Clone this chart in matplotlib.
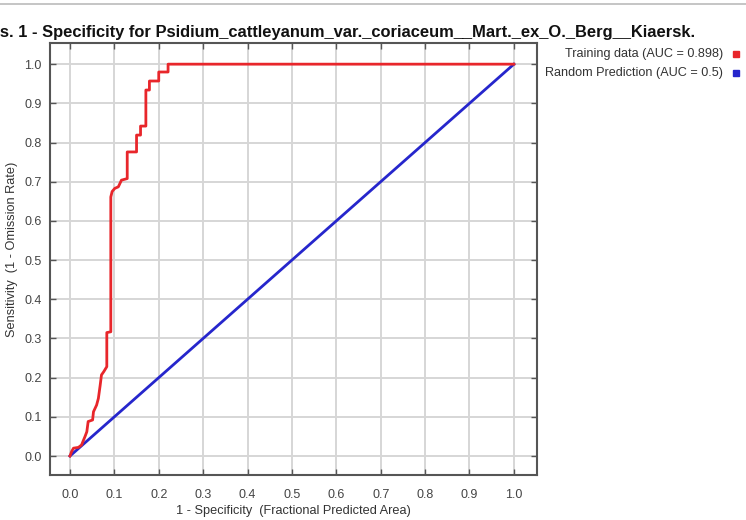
"""
Sensitivity vs 1 - Specificity (ROC) for Psidium cattleyanum
"""
import matplotlib
matplotlib.use('Agg')
import matplotlib.pyplot as plt
from matplotlib.lines import Line2D

plt.rcParams['font.family'] = ['Liberation Sans', 'DejaVu Sans']

# ROC curve
fpr = [0.0, 0.004, 0.008, 0.019, 0.026, 0.034, 0.038, 0.041, 0.046, 0.051,
       0.053, 0.060, 0.064, 0.068, 0.071, 0.076, 0.083, 0.083, 0.092, 0.092,
       0.095, 0.101, 0.109, 0.116, 0.129, 0.129, 0.150, 0.150, 0.159, 0.159,
       0.171, 0.171, 0.179, 0.179, 0.200, 0.200, 0.221, 0.221, 1.0]
tpr = [0.0, 0.012, 0.020, 0.022, 0.028, 0.050, 0.062, 0.088, 0.090, 0.092,
       0.113, 0.130, 0.147, 0.180, 0.207, 0.215, 0.228, 0.315, 0.317, 0.661,
       0.675, 0.683, 0.687, 0.704, 0.708, 0.776, 0.776, 0.819, 0.819, 0.842,
       0.842, 0.934, 0.934, 0.957, 0.957, 0.980, 0.980, 1.0, 1.0]
random_x = [0.0, 1.0]
random_y = [0.0, 1.0]
ticks = [0.0, 0.1, 0.2, 0.3, 0.4, 0.5, 0.6, 0.7, 0.8, 0.9, 1.0]
labels = ['Training data (AUC = 0.898)', 'Random Prediction (AUC = 0.5)']
title = ('Sensitivity vs. 1 - Specificity for '
         'Psidium_cattleyanum_var._coriaceum__Mart._ex_O._Berg__Kiaersk.')

fig = plt.figure(figsize=(7.46, 5.20), dpi=100)
ax = fig.add_axes([0.067, 0.0865, 0.6528, 0.8308])

ax.plot(random_x, random_y, color='#2626cc', lw=2.0, zorder=3)
ax.plot(fpr, tpr, color='#e8262b', lw=2.0, zorder=4)

ax.set_xlim(-0.045, 1.052)
ax.set_ylim(-0.0485, 1.054)
ax.set_xticks(ticks)
ax.set_yticks(ticks)
ax.set_xticklabels(['%.1f' % t for t in ticks])
ax.set_yticklabels(['%.1f' % t for t in ticks])
ax.grid(True, color='#d6d6d6', lw=1.4)
ax.set_axisbelow(True)
ax.tick_params(direction='in', length=4, width=1, color='#555555',
               top=True, right=True, labelsize=9, labelcolor='#444444')
ax.tick_params(axis='x', pad=10)
ax.tick_params(axis='y', pad=6)
for s in ax.spines.values():
    s.set_color('#555555')
    s.set_linewidth(1.5)

ax.set_xlabel('1 - Specificity  (Fractional Predicted Area)', fontsize=9.2,
              color='#333333', labelpad=3)
ax.set_ylabel('Sensitivity  (1 - Omission Rate)', fontsize=9.2,
              color='#333333')
ax.yaxis.set_label_coords(-0.0657, 0.522)

# title runs off the left edge as in the original
fig.text(695 / 746, 1 - 37 / 520, title, ha='right', va='baseline',
         fontsize=11.85, fontweight='bold', color='#111111')

# legend outside the axes, right aligned with small square markers
colors = ['#e8262b', '#2626cc']
for i, (lab, c) in enumerate(zip(labels, colors)):
    y = 1 - (54 + i * 19) / 520
    fig.text(723 / 746, y, lab, ha='right', va='center', fontsize=9.1,
             color='#333333')
    fig.add_artist(Line2D([736 / 746], [y], marker='s', markersize=4,
                          color=c, linestyle='none'))

# thin gray rule at top
fig.add_artist(Line2D([0, 1], [1 - 4 / 520, 1 - 4 / 520], color='#bbbbbb', lw=1.2))

fig.savefig('out.png', dpi=100)
